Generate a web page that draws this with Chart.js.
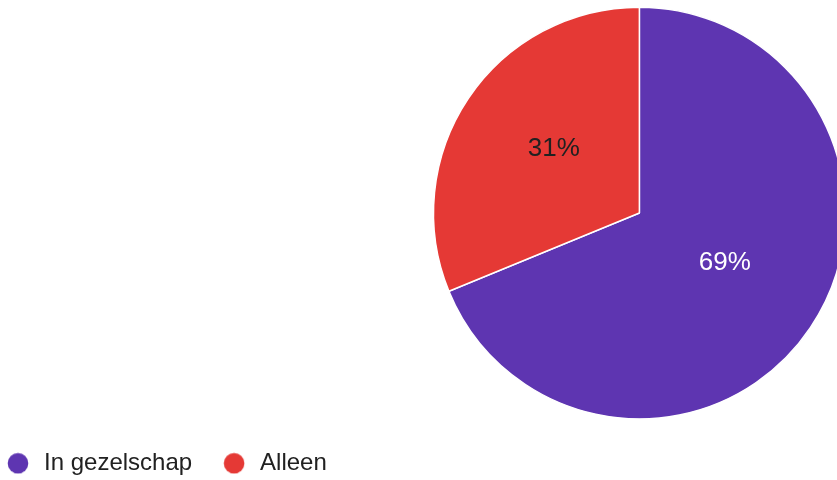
<!DOCTYPE html>
<html>
<head>
<meta charset="utf-8">
<script src="https://cdn.jsdelivr.net/npm/chart.js@4.4.1/dist/chart.umd.min.js"></script>
<style>
  html, body { margin: 0; padding: 0; overflow: hidden; background: #fff; }
  #myPie { position: absolute; left: 0; top: 0; }
</style>
</head>
<body>
<canvas id="myPie" width="846" height="480"></canvas>
<script>
const labels = ["In gezelschap", "Alleen"];
const values = [68.8, 31.2];
const colors = ["#5e35b1", "#e53935"];
const labelColors = ["#ffffff", "#212121"];

const fontFamily = '"Liberation Sans", Arial, sans-serif';

// round legend dot, drawn on a small canvas so the gap to the text can be set freely
function dot(color) {
  const c = document.createElement("canvas");
  c.width = 22;
  c.height = 22;
  const g = c.getContext("2d");
  g.fillStyle = color;
  g.beginPath();
  g.arc(11, 11, 10.3, 0, Math.PI * 2);
  g.fill();
  return c;
}

// empty box on the left so the pie sits on the right side
const leftGap = {
  id: "leftGap",
  start(chart, args, opts) {
    const box = {
      position: "left",
      weight: 0,
      fullSize: false,
      options: {},
      width: 0, height: 0, left: 0, top: 0, right: 0, bottom: 0,
      update(maxW, maxH) { this.width = opts.width; this.height = maxH; },
      isHorizontal() { return false; },
      draw() {}
    };
    Chart.layouts.addBox(chart, box);
  }
};

const pctLabels = {
  id: "pctLabels",
  afterDatasetsDraw(chart) {
    const ctx = chart.ctx;
    const meta = chart.getDatasetMeta(0);
    const total = values.reduce((a, b) => a + b, 0);
    ctx.save();
    ctx.font = "26px " + fontFamily;
    ctx.textAlign = "center";
    ctx.textBaseline = "middle";
    meta.data.forEach((arc, i) => {
      const p = arc.getProps(["x", "y", "startAngle", "endAngle", "outerRadius"]);
      const mid = (p.startAngle + p.endAngle) / 2;
      const r = p.outerRadius * 0.5;
      ctx.fillStyle = labelColors[i];
      ctx.fillText(Math.round(values[i] / total * 100) + "%", p.x + Math.cos(mid) * r, p.y + Math.sin(mid) * r - 7);
    });
    ctx.restore();
  }
};

const ctx = document.getElementById("myPie");

new Chart(ctx, {
  type: "pie",
  data: {
    labels: labels,
    datasets: [
      {
        data: values,
        backgroundColor: colors,
        borderColor: "#ffffff",
        borderWidth: 1.5
      }
    ]
  },
  options: {
    responsive: false,
    animation: false,
    layout: {
      padding: { left: -24, right: 0, top: 2.7, bottom: -5.3 }
    },
    plugins: {
      leftGap: { width: 456.75 },
      tooltip: { enabled: false },
      legend: {
        position: "bottom",
        align: "start",
        labels: {
          usePointStyle: true,
          pointStyleWidth: 28,
          boxHeight: 24,
          padding: 28,
          color: "#212121",
          font: { family: fontFamily, size: 24 },
          generateLabels(chart) {
            const items = Chart.overrides.doughnut.plugins.legend.labels.generateLabels(chart);
            items.forEach((it) => { it.pointStyle = dot(it.fillStyle); });
            return items;
          }
        }
      }
    }
  },
  plugins: [leftGap, pctLabels]
});
</script>
</body>
</html>
